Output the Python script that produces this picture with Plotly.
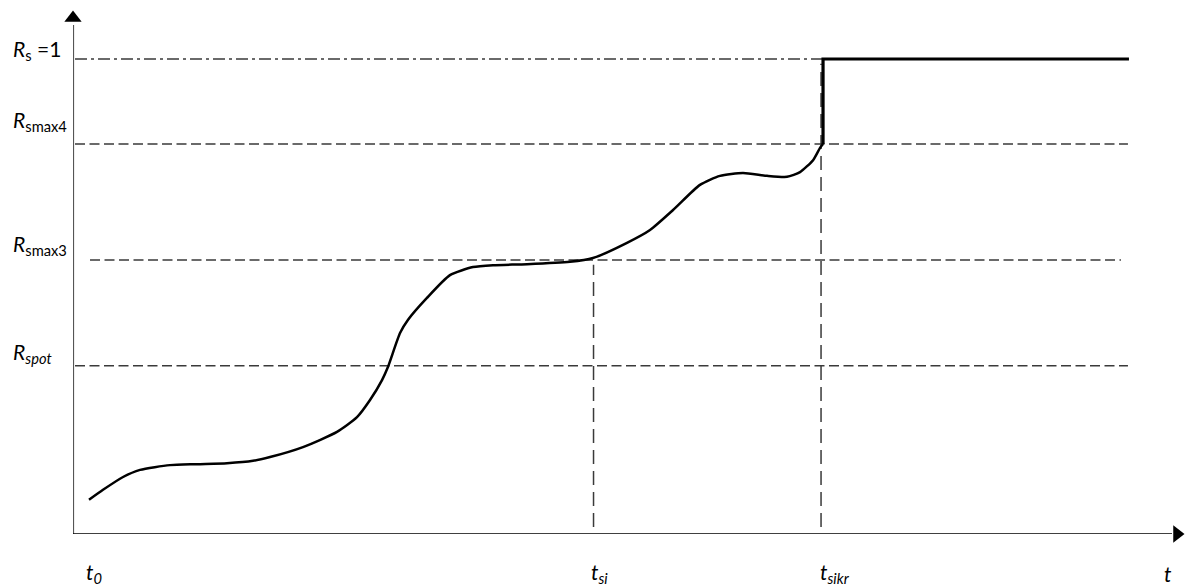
import plotly.graph_objects as go

# ---- data (t in time units, R normalised) ----
curve_t = [0.144, 0.270, 0.450, 0.603, 0.872, 1.115, 1.385, 1.619, 1.772, 2.068,
           2.374, 2.554, 2.671, 2.779, 2.833, 2.941, 3.013, 3.183, 3.390, 3.597,
           3.777, 4.083, 4.469, 4.676, 4.982, 5.189, 5.396, 5.638, 5.818, 6.025,
           6.241, 6.421, 6.538, 6.655, 6.718, 6.745]
curve_R = [0.072, 0.093, 0.120, 0.135, 0.145, 0.147, 0.149, 0.154, 0.162, 0.183,
           0.215, 0.246, 0.282, 0.324, 0.352, 0.423, 0.451, 0.497, 0.545, 0.562,
           0.566, 0.568, 0.573, 0.581, 0.613, 0.640, 0.682, 0.735, 0.754, 0.760,
           0.754, 0.752, 0.762, 0.787, 0.813, 0.821]

step_t = [6.745, 6.745, 9.496]
step_R = [0.821, 1.0, 1.0]

R_s = 1.0
R_smax4 = 0.821
R_smax3 = 0.577
R_spot = 0.354

t_si = 4.681
t_sikr = 6.727
t_end = 9.487

level_names = ["<i>R</i><sub>s</sub> =1", "<i>R</i><sub>smax4</sub>",
               "<i>R</i><sub>smax3</sub>", "<i>R</i><sub><i>spot</i></sub>"]
time_names = ["<i>t<sub>0</sub></i>", "<i>t<sub>si</sub></i>",
              "<i>t<sub>sikr</sub></i>", "<i>t</i>"]

W, H = 1185, 588
L, R_, T, B = 73, 0, 5, 54
x_max = 10.0
y_max = 1.1137

FONT = "Lato"
GRAY = "#3a3a3a"

fig = go.Figure()

def seg(x, y, color=GRAY, width=1.5, dash="solid"):
    fig.add_trace(go.Scatter(x=x, y=y, mode="lines",
                             line=dict(color=color, width=width, dash=dash),
                             hoverinfo="skip", showlegend=False, cliponaxis=False))

# horizontal reference lines
seg([0.018, 6.745], [R_s, R_s], dash="12px,4px,3px,4px")
seg([0.018, t_end], [R_smax4, R_smax4], dash="10px,4.5px")
seg([0.153, 9.424], [R_smax3, R_smax3], dash="10px,4.5px")
seg([0.018, t_end], [R_spot, R_spot], dash="10px,4.5px")

# vertical reference lines
seg([t_si, t_si], [0.015, R_smax3 - 0.01], dash="14px,7px")
seg([t_sikr, t_sikr], [0.015, 0.99], dash="14px,7px")

# axes
seg([0, 0], [0, 1.0716], color="#555555", width=2.2)
seg([0, 9.883], [0, 0], color="#000000", width=1.6)
fig.add_trace(go.Scatter(x=[0], y=[1.0863], mode="markers",
                         marker=dict(symbol="triangle-up", size=15, color="#000000"),
                         hoverinfo="skip", showlegend=False, cliponaxis=False))
fig.add_trace(go.Scatter(x=[9.928], y=[0], mode="markers",
                         marker=dict(symbol="triangle-right", size=15, color="#000000"),
                         hoverinfo="skip", showlegend=False, cliponaxis=False))

# main curve and step
fig.add_trace(go.Scatter(x=curve_t, y=curve_R, mode="lines",
                         line=dict(color="#000000", width=2.5, shape="spline", smoothing=0.6),
                         hoverinfo="skip", showlegend=False, cliponaxis=False))
fig.add_trace(go.Scatter(x=step_t, y=step_R, mode="lines",
                         line=dict(color="#000000", width=3.2),
                         hoverinfo="skip", showlegend=False, cliponaxis=False))

plot_w = W - L - R_
plot_h = H - T - B

def px_x(p):
    return (p - L) / plot_w

def px_y(p):
    return (H - B - p) / plot_h

# left labels (pixel centre positions)
level_label_y = [50, 121, 245, 353]
for name, py in zip(level_names, level_label_y):
    fig.add_annotation(text=name, xref="paper", yref="paper",
                       x=px_x(11), y=px_y(py), xanchor="left", yanchor="middle",
                       showarrow=False, font=dict(family=FONT, size=21, color="#000000"))

# bottom labels
time_label_x = [84, 589, 818, 1162]
for name, px in zip(time_names, time_label_x):
    fig.add_annotation(text=name, xref="paper", yref="paper",
                       x=px_x(px), y=px_y(573), xanchor="left", yanchor="middle",
                       showarrow=False, font=dict(family=FONT, size=21, color="#000000"))

fig.update_layout(
    width=W, height=H,
    margin=dict(l=L, r=R_, t=T, b=B, pad=0),
    paper_bgcolor="white", plot_bgcolor="white",
    xaxis=dict(range=[0, x_max], visible=False, fixedrange=True),
    yaxis=dict(range=[0, y_max], visible=False, fixedrange=True),
    showlegend=False,
)

fig.write_html("out.html", config={"displayModeBar": False},
               post_script="document.body.style.margin='0';document.body.style.overflow='hidden';")
